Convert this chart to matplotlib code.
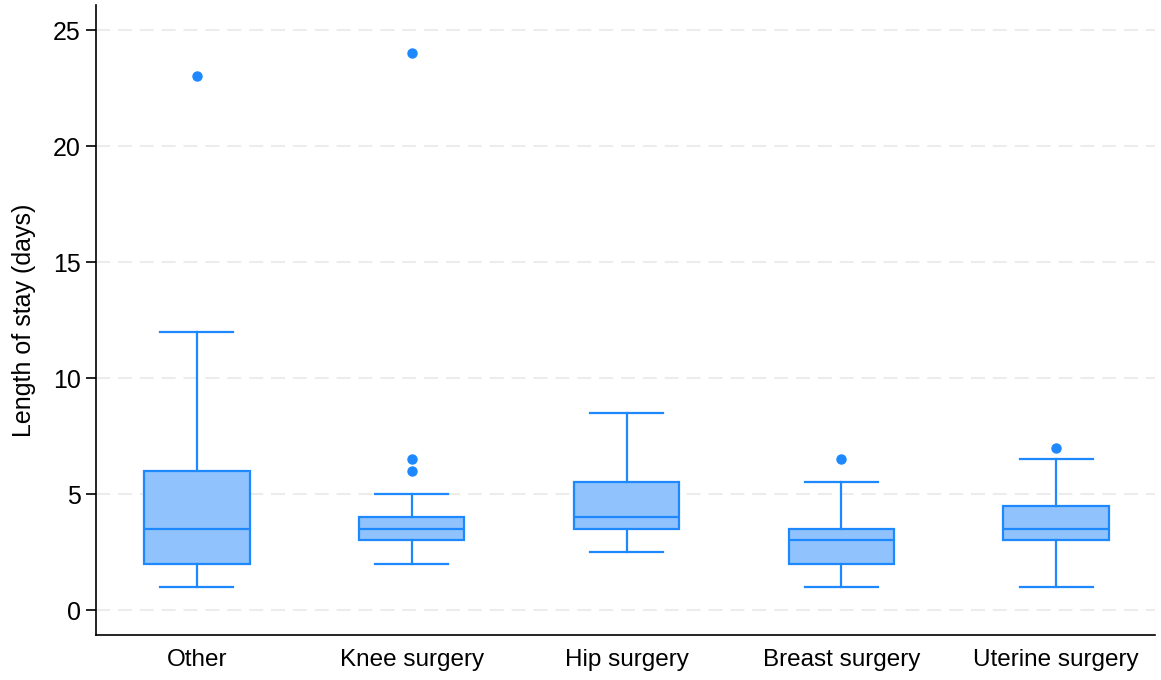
import matplotlib
matplotlib.use("Agg")
import matplotlib.pyplot as plt

plt.rcParams['font.family'] = ['Liberation Sans', 'DejaVu Sans']

# --- Data ---
categories = ["Other", "Knee surgery", "Hip surgery", "Breast surgery", "Uterine surgery"]
whis_lo = [1.0, 2.0, 2.5, 1.0, 1.0]
q1 = [2.0, 3.0, 3.5, 2.0, 3.0]
medians = [3.5, 3.5, 4.0, 3.0, 3.5]
q3 = [6.0, 4.0, 5.5, 3.5, 4.5]
whis_hi = [12.0, 5.0, 8.5, 5.5, 6.5]
outliers = [[23.0], [6.0, 6.5, 24.0], [], [6.5], [7.0]]
y_ticks = [0, 5, 10, 15, 20, 25]

edge = "#1e88ff"
fill = "#90c3fd"

stats = []
for i, name in enumerate(categories):
    stats.append({
        "label": name, "whislo": whis_lo[i], "q1": q1[i], "med": medians[i],
        "q3": q3[i], "whishi": whis_hi[i], "fliers": outliers[i],
    })

fig = plt.figure(figsize=(11.61, 6.8), dpi=100)
ax = fig.add_axes([0.0827, 0.066, 0.912, 0.9266])

ax.bxp(
    stats, positions=range(len(categories)), widths=0.49, patch_artist=True,
    boxprops=dict(facecolor=fill, edgecolor=edge, linewidth=1.6),
    medianprops=dict(color=edge, linewidth=1.6),
    whiskerprops=dict(color=edge, linewidth=1.6),
    capprops=dict(color=edge, linewidth=1.6),
    flierprops=dict(marker="o", markerfacecolor=edge, markeredgecolor=edge, markersize=6.5),
    capwidths=0.34,
)

ax.set_xlim(-0.47, 4.46)
ax.set_ylim(-1.08, 26.08)
ax.set_yticks(y_ticks)
ax.yaxis.grid(True, color="#ececec", linestyle=(0, (6.7, 3.8)), linewidth=1.5)
ax.set_axisbelow(True)

for side in ["top", "right"]:
    ax.spines[side].set_visible(False)
for side in ["left", "bottom"]:
    ax.spines[side].set_linewidth(1.2)

ax.tick_params(axis="y", length=7, width=1.2, labelsize=18, pad=4)
ax.tick_params(axis="x", length=0, labelsize=17.5, pad=10)
ax.set_xticks(range(len(categories)))
ax.set_xticklabels(categories)
ax.set_ylabel("Length of stay (days)", fontsize=18, labelpad=12)

fig.savefig("out.png", dpi=100)
